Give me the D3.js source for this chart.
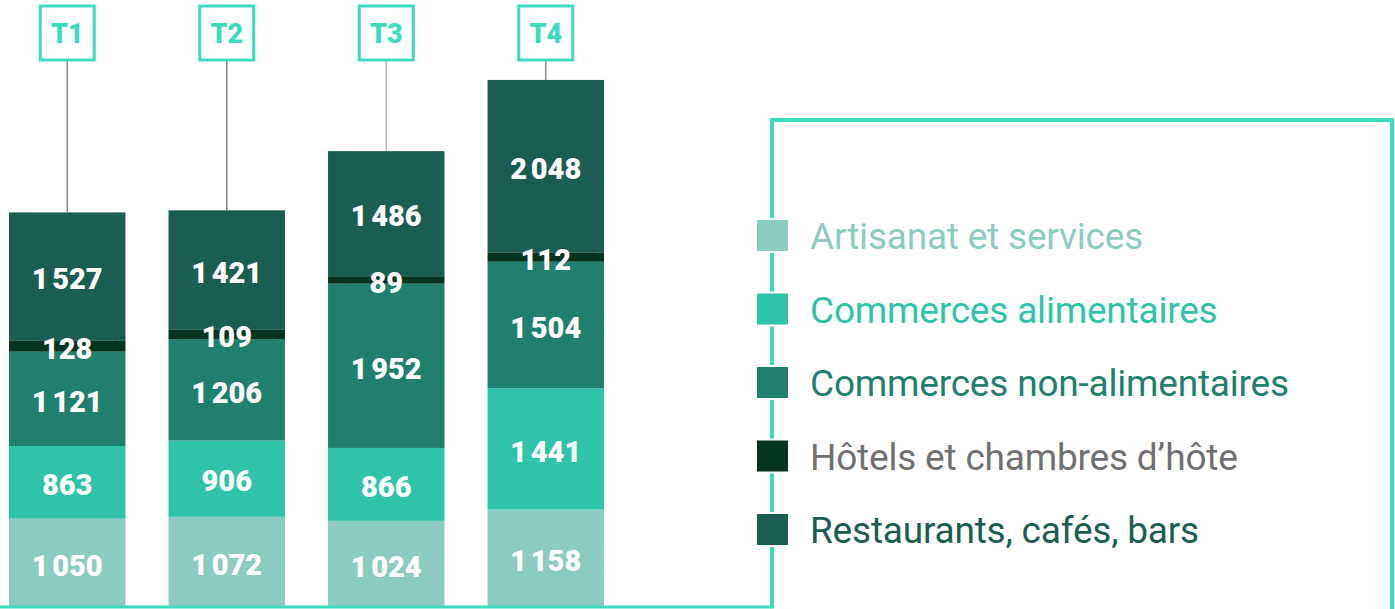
<!DOCTYPE html>
<html>
<head>
<meta charset="utf-8">
<script src="https://cdn.jsdelivr.net/npm/d3@7"></script>
<style>
  html, body { margin: 0; padding: 0; background: #ffffff; }
  svg { display: block; }
</style>
</head>
<body>
<svg id="chart" width="1395" height="609"></svg>
<script>
// ---- Data ----
const quarters = ["T1", "T2", "T3", "T4"];
const seriesNames = [
  "Artisanat et services",
  "Commerces alimentaires",
  "Commerces non-alimentaires",
  "Hôtels et chambres d’hôte",
  "Restaurants, cafés, bars"
];
const artisanat = [1050, 1072, 1024, 1158];
const commercesAlim = [863, 906, 866, 1441];
const commercesNonAlim = [1121, 1206, 1952, 1504];
const hotels = [128, 109, 89, 112];
const restaurants = [1527, 1421, 1486, 2048];

// ---- Styles ----
const barColors = ["#8ccbc0", "#2fc4a7", "#21806d", "#02341f", "#1b5d51"];
const legendTextColors = ["#8ccbc0", "#2fc4a7", "#21806d", "#707070", "#1b5d51"];
const accent = "#3ddbbe";
const connectorColors = ["#8a8a8a", "#8a8a8a", "#b8b8b8", "#8a8a8a"];

const seriesValues = [artisanat, commercesAlim, commercesNonAlim, hotels, restaurants];
const table = quarters.map((q, i) => {
  const row = { quarter: q };
  seriesNames.forEach((s, k) => row[s] = seriesValues[k][i]);
  return row;
});
const stacked = d3.stack().keys(seriesNames)(table);

const svg = d3.select("#chart");

const x = d3.scaleBand().domain(quarters).range([9, 604]).paddingInner(0.27).paddingOuter(0);
const y = d3.scaleLinear().domain([0, 7213]).range([607, 0]);

const fmt = v => d3.format(",")(v).replace(/,/g, "\u202F");

const segments = stacked.flatMap((layer, i) =>
  layer.map(p => ({ p, key: layer.key, idx: i })));

// bars
svg.append("g").selectAll("rect")
  .data(segments)
  .join("rect")
  .attr("fill", d => barColors[d.idx])
  .attr("x", d => x(d.p.data.quarter))
  .attr("width", x.bandwidth())
  .attr("y", d => y(d.p[1]))
  .attr("height", d => y(d.p[0]) - y(d.p[1]));

// value labels (drawn above all bars)
svg.append("g").selectAll("text")
  .data(segments)
  .join("text")
  .attr("x", d => x(d.p.data.quarter) + x.bandwidth() / 2)
  .attr("y", d => (y(d.p[0]) + y(d.p[1])) / 2)
  .attr("dy", "0.44em")
  .attr("text-anchor", "middle")
  .attr("fill", "#ffffff")
  .style("font-family", "Roboto, sans-serif")
  .style("font-weight", 900)
  .style("font-size", "29px")
  .text(d => fmt(d.p[1] - d.p[0]));

// quarter boxes + connectors
const totals = stacked[stacked.length - 1];
const boxSize = 54, boxTop = 6;
const qg = svg.append("g").selectAll("g").data(quarters).join("g");
qg.append("line")
  .attr("x1", q => x(q) + x.bandwidth() / 2)
  .attr("x2", q => x(q) + x.bandwidth() / 2)
  .attr("y1", boxTop + boxSize)
  .attr("y2", (q, i) => y(totals[i][1]))
  .attr("stroke", (q, i) => connectorColors[i])
  .attr("stroke-width", 1.5);
qg.append("rect")
  .attr("x", q => x(q) + x.bandwidth() / 2 - boxSize / 2)
  .attr("y", boxTop)
  .attr("width", boxSize)
  .attr("height", boxSize)
  .attr("fill", "#ffffff")
  .attr("stroke", accent)
  .attr("stroke-width", 3);
qg.append("text")
  .attr("x", q => x(q) + x.bandwidth() / 2)
  .attr("y", boxTop + boxSize / 2)
  .attr("dy", "0.36em")
  .attr("text-anchor", "middle")
  .attr("fill", accent)
  .style("font-family", "Roboto, sans-serif")
  .style("font-weight", 900)
  .style("font-size", "27px")
  .text(q => q);

// frame lines
svg.append("line").attr("x1", 0).attr("x2", 772).attr("y1", 607).attr("y2", 607)
  .attr("stroke", accent).attr("stroke-width", 3);
svg.append("path")
  .attr("d", "M772,608.5 V120 H1392 V609")
  .attr("fill", "none").attr("stroke", accent).attr("stroke-width", 4);

// legend
const ly = d3.scalePoint().domain(seriesNames).range([236, 530]);
const lg = svg.append("g").selectAll("g").data(seriesNames).join("g")
  .attr("transform", d => `translate(0,${ly(d)})`);
lg.append("rect")
  .attr("x", 756).attr("y", -17).attr("width", 33).attr("height", 33)
  .attr("fill", (d, i) => barColors[i])
  .attr("stroke", "#ffffff").attr("stroke-width", 2);
lg.append("text")
  .attr("x", 810).attr("y", 0).attr("dy", "0.36em")
  .attr("fill", (d, i) => legendTextColors[i])
  .style("font-family", "Roboto, sans-serif")
  .style("font-size", "37px")
  .style("letter-spacing", "-0.2px")
  .text(d => d);
</script>
</body>
</html>
